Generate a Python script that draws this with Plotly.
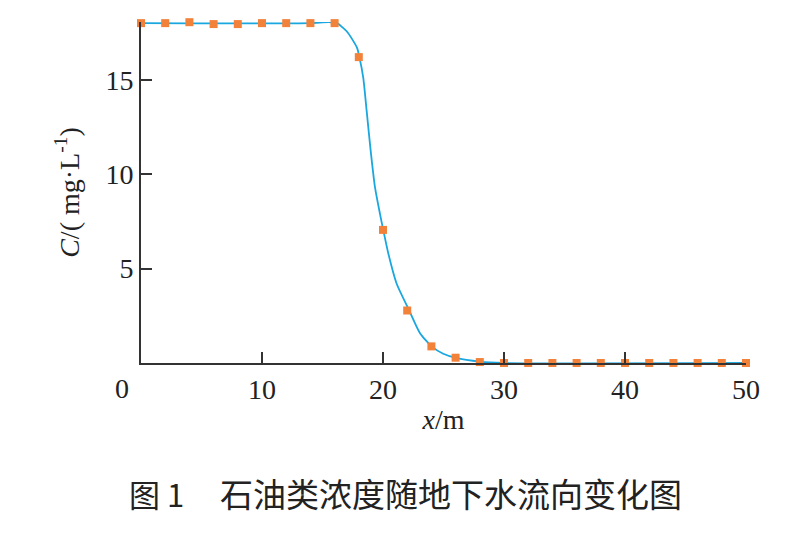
import plotly.graph_objects as go

# Measured concentrations (markers)
x_points = [0, 2, 4, 6, 8, 10, 12, 14, 16, 18, 20, 22, 24, 26, 28,
            30, 32, 34, 36, 38, 40, 42, 44, 46, 48, 50]
c_points = [18.0, 18.0, 18.05, 17.95, 17.95, 18.0, 18.0, 18.0, 18.0, 16.2, 7.05, 2.78, 0.88, 0.28, 0.05,
            0, 0, 0, 0, 0, 0, 0, 0, 0, 0, 0]

# Fitted curve
x_curve = [0, 14, 15.5, 16.2, 16.7, 17.0, 17.5, 17.85, 18.05, 18.37, 18.65, 18.98, 19.34, 19.75,
           20.02, 20.44, 21.13, 22.17, 23.06, 24.02, 24.98, 25.98, 28.0, 30, 50]
c_curve = [18.0, 18.0, 18.05, 18.0, 17.75, 17.57, 17.1, 16.7, 16.2, 15.1, 13.35, 11.25, 9.3, 7.9,
           7.05, 5.8, 4.2, 2.78, 1.58, 0.88, 0.49, 0.28, 0.07, 0.0, 0.0]

x_ticks = [10, 20, 30, 40, 50]
y_ticks = [5, 10, 15]

FONT = "Liberation Serif, Times New Roman, Noto Sans CJK SC, serif"
CJK = "Noto Sans CJK SC, Liberation Serif"

fig = go.Figure()
fig.add_trace(go.Scatter(x=x_curve, y=c_curve, mode="lines",
                         line=dict(color="#1aa7df", width=1.8, shape="spline", smoothing=0.6),
                         cliponaxis=False, showlegend=False, hoverinfo="skip"))
fig.add_trace(go.Scatter(x=x_points, y=c_points, mode="markers",
                         marker=dict(symbol="square", size=8, color="#f2813a"),
                         cliponaxis=False, showlegend=False))

# page body has an 8px offset; compensate in size and margins
fig.update_layout(
    width=793, height=527,
    margin=dict(l=133, r=55, t=14, b=172, autoexpand=False),
    plot_bgcolor="white", paper_bgcolor="white",
    font=dict(family=FONT, size=28, color="#222"),
    xaxis=dict(range=[0, 50], tickvals=x_ticks, ticks="inside", ticklen=11, tickwidth=2,
               tickcolor="#333", showline=True, linecolor="#333", linewidth=2,
               showgrid=False, zeroline=False,
               title=dict(text="<i>x</i>/m", font=dict(size=28), standoff=6)),
    yaxis=dict(range=[0, 18.06], tickvals=y_ticks, ticks="inside", ticklen=11, tickwidth=2,
               tickcolor="#333", showline=True, linecolor="#333", linewidth=2,
               showgrid=False, zeroline=False,
               title=dict(text="<i>C</i>/( mg·L<sup>-1</sup>)", font=dict(size=28), standoff=18)),
    annotations=[
        dict(text="0", x=0, y=0, xref="x", yref="y", xanchor="right", yanchor="top",
             xshift=-10, yshift=-8, showarrow=False, font=dict(size=28)),
        dict(text="图 1", x=0, y=0, xref="paper", yref="paper",
             xanchor="left", yanchor="middle", xshift=-14, yshift=-130, showarrow=False,
             font=dict(size=31, family=CJK)),
        dict(text="石油类浓度随地下水流向变化图", x=0, y=0, xref="paper", yref="paper",
             xanchor="left", yanchor="middle", xshift=77, yshift=-130, showarrow=False,
             font=dict(size=33, family=CJK)),
    ],
)

fig.write_html("out.html")
